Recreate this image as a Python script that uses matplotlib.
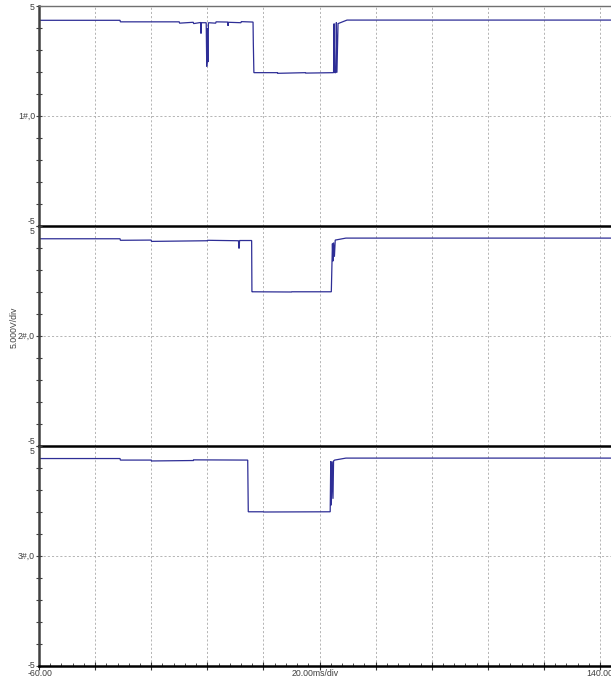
import numpy as np
import matplotlib
matplotlib.use('Agg')
import matplotlib.pyplot as plt

# ---- data (time in ms, value in V/div units) ----
ch1_t = [-60, -31.1, -31.0, -10, -9.9, -5, -4.9, -2.4, -2.25, -2.1, -0.4, -0.2, 0.0, 0.2, 0.4,
         3, 3.1, 7.3, 7.4, 7.5, 12, 12.1, 16.3, 16.4, 16.6, 25, 25.1, 35, 35.1, 45.0, 45.2, 45.4,
         45.8, 46.0, 46.2, 46.6, 49.8, 143.9]
ch1_v = [4.35, 4.35, 4.28, 4.28, 4.22, 4.26, 4.20, 4.25, 3.75, 4.24, 4.24, 2.25, 4.0, 2.45, 4.24,
         4.22, 4.28, 4.27, 4.10, 4.26, 4.24, 4.29, 4.27, 3.30, 1.97, 1.97, 1.94, 1.97, 1.95, 1.97, 4.20, 1.97,
         1.97, 4.25, 1.97, 4.20, 4.36, 4.36]

ch2_t = [-60, -31.1, -31.0, -20, -19.9, 0, 0.1, 11.1, 11.3, 11.5, 15.8, 15.9, 16.2, 30, 30.1,
         44.2, 44.6, 44.8, 45.0, 45.3, 45.6, 49.4, 143.9]
ch2_v = [4.42, 4.42, 4.35, 4.36, 4.30, 4.33, 4.35, 4.33, 3.98, 4.34, 4.34, 2.01, 2.01, 2.0, 2.01,
         2.01, 4.20, 3.40, 4.25, 3.60, 4.36, 4.45, 4.45]

ch3_t = [-60, -31.1, -31.0, -20, -19.9, -5, -4.9, 14.4, 14.6, 20, 20.1, 43.8, 44.0, 44.2, 44.5,
         44.8, 45.0, 45.4, 49.4, 143.9]
ch3_v = [4.43, 4.43, 4.36, 4.36, 4.32, 4.34, 4.37, 4.36, 2.01, 2.01, 2.0, 2.01, 4.30, 2.3, 4.30,
         2.6, 4.32, 4.36, 4.45, 4.45]

channels = [(ch1_t, ch1_v, '1#,0'), (ch2_t, ch2_v, '2#,0'), (ch3_t, ch3_v, '3#,0')]

W, H = 611, 685
fig = plt.figure(figsize=(W / 100, H / 100), dpi=100)
fig.patch.set_facecolor('white')

def fx(x): return x / W
def fy(y): return 1 - y / H

left, right = 39, 611
tops = [6, 226, 446]
ph = 220
xmin, xmax = -60, 143.9
font = dict(family=['Liberation Sans', 'DejaVu Sans'], size=6.3, color='#404040')
trace_col = '#2e2e96'

axes = []
for i, (t, v, lab) in enumerate(channels):
  top = tops[i]
  ax = fig.add_axes([fx(left), fy(top + ph), (right - left) / W, ph / H])
  ax.plot(t, v, color=trace_col, lw=0.9, solid_joinstyle='miter')
  ax.set_xlim(xmin, xmax)
  ax.set_ylim(-5, 5)
  for xg in np.arange(-40, 141, 20):
    ax.axvline(xg, color='#a8a8a8', lw=0.6, ls=(0, (2.5, 2.5)), zorder=0)
  ax.axhline(0, color='#a8a8a8', lw=0.6, ls=(0, (2.5, 2.5)), zorder=0)
  ax.set_yticks([-5, 0, 5])
  ax.set_yticks(np.arange(-4, 5, 1), minor=True)
  ax.set_yticklabels([])
  ax.tick_params(axis='y', which='both', direction='inout', length=4, width=0.8,
                 colors='#404040')
  ax.spines['left'].set_color('#404040')
  ax.spines['left'].set_linewidth(1.8)
  ax.spines['right'].set_visible(False)
  ax.spines['top'].set_visible(i == 0)
  ax.spines['top'].set_color('#707070')
  ax.spines['top'].set_linewidth(1.0)
  ax.spines['bottom'].set_color('black')
  ax.spines['bottom'].set_linewidth(1.8)
  if i < 2:
    ax.set_xticks([])
  else:
    ax.set_xticks(np.arange(-60, 141, 20))
    ax.set_xticks(np.arange(-60, 144, 4), minor=True)
    ax.set_xticklabels([])
    ax.tick_params(axis='x', which='major', direction='inout', length=6, width=0.8,
                   colors='#303030')
    ax.tick_params(axis='x', which='minor', direction='in', length=2.5, width=0.6,
                   colors='#303030')
  ax.set_facecolor('none')
  axes.append(ax)

  # channel labels
  fig.text(fx(35), fy(top + ph / 2), lab, ha='right', va='center', **font)
  if i == 0:
    fig.text(fx(35), fy(top + 1), '5', ha='right', va='center', **font)
  else:
    fig.text(fx(35), fy(top + 6), '5', ha='right', va='center', **font)
  if i < 2:
    fig.text(fx(35), fy(top + ph - 4), '-5', ha='right', va='center', **font)
  else:
    fig.text(fx(35), fy(top + ph - 1), '-5', ha='right', va='center', **font)

fig.text(fx(40), fy(674), '-60.00', ha='center', va='center', **font)
fig.text(fx(315), fy(674), '20.00ms/div', ha='center', va='center', **font)
fig.text(fx(586), fy(674), '140.00', ha='left', va='center', **font)
fig.text(fx(14), fy(327), '5.000V/div', ha='center', va='center', rotation=90, **font)

fig.savefig('out.png', dpi=100)
